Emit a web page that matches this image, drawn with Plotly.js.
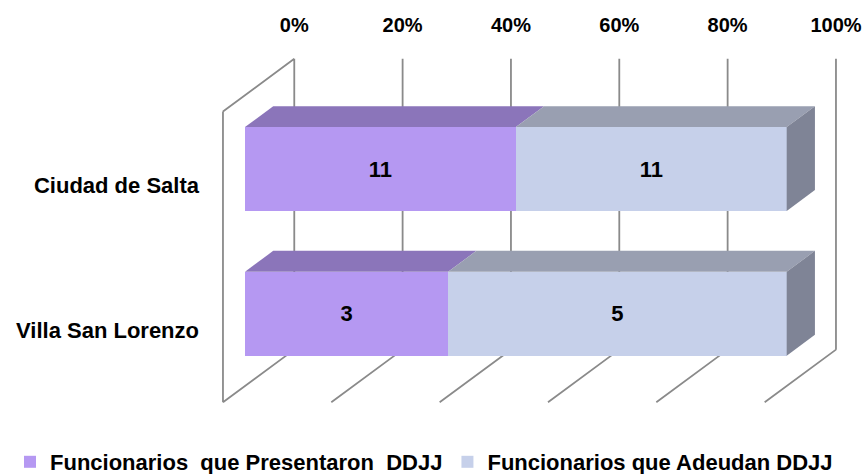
<!DOCTYPE html>
<html><head><meta charset="utf-8">
<script src="https://cdn.plot.ly/plotly-3.0.1.min.js"></script>
<style>html,body{margin:0;padding:0;background:#fff}</style>
</head><body><div id="chart" style="width:864px;height:474px"></div>
<script>
// ---- data ----
const categories = ["Ciudad de Salta", "Villa San Lorenzo"];
const seriesNames = ["Funcionarios  que Presentaron  DDJJ", "Funcionarios que Adeudan DDJJ"];
const presentaron = [11, 3];
const adeudan = [11, 5];
const tickValues = [0, 20, 40, 60, 80, 100];
const tickLabels = ["0%", "20%", "40%", "60%", "80%", "100%"];

// ---- styles / geometry ----
const frontColors = ["#B598F2", "#C6D0EA"];
const topColors = ["#8B75BA", "#999FB1"];
const sideColor = "#7F8496";
const gridColor = "#8A8A8A";
const FONT = "Liberation Sans, Arial, sans-serif";

const W = 864, H = 474;
const M = {l: 0, r: 0, t: 0, b: 0, autoexpand: false};
const plotW = W - M.l - M.r, plotH = H - M.t - M.b;
const pxPerPct = 5.417, pxPerCat = 144.7;
const x0 = -(245 - M.l) / pxPerPct, x1 = x0 + plotW / pxPerPct;
const yTop = -(169 - M.t) / pxPerCat, yBot = yTop + plotH / pxPerCat;
const DX = 71.3 / pxPerPct, DY = -52.7 / pxPerCat;
const zF = 0.309, zB = 0.705;
const barW = 0.58;
const wallTop = -0.51, wallBot = 1.5;
function P(pct, yc, z) { return [pct + (z - zF) * DX, yc + (z - zF) * DY]; }

const catPos = categories.map((c, i) => i);
const series = [presentaron, adeudan];

// grid / wall lines as shapes below traces
let path = "";
function seg(a, b) { path += "M" + a[0] + "," + a[1] + "L" + b[0] + "," + b[1]; }
tickValues.forEach(t => {
  seg(P(t, wallTop, 1), P(t, wallBot, 1));
  seg(P(t, wallBot, 1), P(t, wallBot, 0));
});
seg(P(0, wallBot, 0), P(0, wallTop, 0));
seg(P(0, wallTop, 0), P(0, wallTop, 1));
const shapes = [{type: "path", xref: "x", yref: "y", layer: "below", path: path,
  line: {color: gridColor, width: 1.8}}];

const traces = [];
// front faces: bars
series.forEach((vals, j) => {
  traces.push({
    type: "bar", orientation: "h", name: seriesNames[j],
    y: catPos, x: vals, width: barW,
    marker: {color: frontColors[j], line: {width: 0}},
    text: vals.map(String), textposition: "inside", insidetextanchor: "middle",
    textangle: 0, constraintext: "none",
    textfont: {family: FONT, size: 22, color: "#000", weight: "bold"},
    hoverinfo: "skip"
  });
});
// top and side faces
catPos.forEach((yc, i) => {
  const total = series.reduce((s, v) => s + v[i], 0);
  let cum = 0;
  const yT = yc - barW / 2, yB = yc + barW / 2;
  series.forEach((vals, j) => {
    const a = cum / total * 100; cum += vals[i]; const b = cum / total * 100;
    const pts = [P(a, yT, zF), P(b, yT, zF), P(b, yT, zB), P(a, yT, zB), P(a, yT, zF)];
    traces.push({type: "scatter", mode: "lines", fill: "toself", fillcolor: topColors[j],
      line: {width: 0, color: topColors[j]}, x: pts.map(p => p[0]), y: pts.map(p => p[1]),
      showlegend: false, hoverinfo: "skip"});
  });
  const s = [P(100, yT, zF), P(100, yB, zF), P(100, yB, zB), P(100, yT, zB), P(100, yT, zF)];
  traces.push({type: "scatter", mode: "lines", fill: "toself", fillcolor: sideColor,
    line: {width: 0, color: sideColor}, x: s.map(p => p[0]), y: s.map(p => p[1]),
    showlegend: false, hoverinfo: "skip"});
});
// dummy trace for label axes
traces.push({type: "scatter", x: [], y: [], xaxis: "x2", yaxis: "y2", showlegend: false, hoverinfo: "skip"});

const backShift = (1 - zF) * DX;
const frontShift = (0 - zF) * DY;
const layout = {
  width: W, height: H, margin: M,
  paper_bgcolor: "#fff", plot_bgcolor: "rgba(0,0,0,0)",
  barmode: "stack", barnorm: "percent", showlegend: true, hovermode: false,
  xaxis: {range: [x0, x1], showgrid: false, zeroline: false, showticklabels: false, showline: false, fixedrange: true},
  yaxis: {range: [yBot, yTop], showgrid: false, zeroline: false, showticklabels: false, showline: false, fixedrange: true},
  xaxis2: {overlaying: "x", anchor: "free", position: 1 - 40 / H, side: "top", range: [x0 - backShift, x1 - backShift],
    tickmode: "array", tickvals: tickValues, ticktext: tickLabels, ticks: "", showgrid: false, zeroline: false,
    ticklabelstandoff: 4,
    showline: false, tickfont: {family: FONT, size: 20, color: "#000", weight: "bold"}, fixedrange: true},
  yaxis2: {overlaying: "y", anchor: "free", position: 199 / W, side: "left", range: [yBot - frontShift, yTop - frontShift],
    tickmode: "array", tickvals: catPos, ticktext: categories, ticks: "", showgrid: false, zeroline: false,
    showline: false, tickfont: {family: FONT, size: 22, color: "#000", weight: "bold"}, fixedrange: true},
  legend: {orientation: "h", xref: "container", yref: "container",
    x: 10 / W, y: 1 - 462 / H,
    xanchor: "left", yanchor: "middle",
    font: {family: FONT, size: 22, color: "#000", weight: "bold"},
    traceorder: "normal", bgcolor: "rgba(0,0,0,0)"},
  shapes: shapes
};
Plotly.newPlot("chart", traces, layout, {displayModeBar: false, staticPlot: true});
</script></body></html>
